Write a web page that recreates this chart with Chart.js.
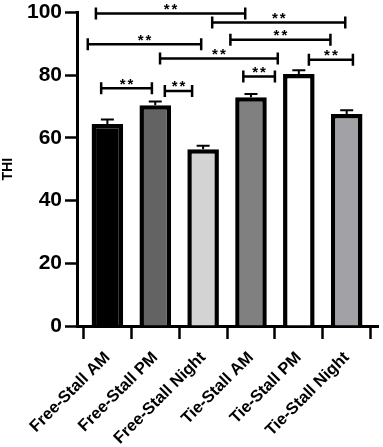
<!DOCTYPE html>
<html>
<head>
<meta charset="utf-8">
<title>THI</title>
<script src="https://cdn.jsdelivr.net/npm/chart.js"></script>
<style>
  html, body { margin: 0; padding: 0; background: #fff; }
  #wrap { width: 383px; height: 447px; }
</style>
</head>
<body>
<div id="wrap"><canvas id="chartCanvas"></canvas></div>
<script>
// data
const categories = ['Free-Stall AM', 'Free-Stall PM', 'Free-Stall Night', 'Tie-Stall AM', 'Tie-Stall PM', 'Tie-Stall Night'];
const thiMeans = [64.4, 70.4, 56.4, 73.0, 80.4, 67.6];
const thiErrors = [1.5, 1.2, 1.1, 1.0, 1.2, 1.2];
const barColors = ['#000000', '#636363', '#d3d3d3', '#808080', '#ffffff', '#a2a1a5'];
const yTicks = [0, 20, 40, 60, 80, 100];

// significance brackets: start (x units), end (x units), height (THI)
const bracketStart = [-0.24, 2.19, -0.41, 2.57, 1.10, -0.13, 1.20, 2.84, 4.21];
const bracketEnd   = [ 2.88, 4.97,  1.96, 4.66, 3.56,  0.93, 1.77, 3.50, 5.13];
const bracketLevel = [ 99.7, 96.8,  89.9, 91.3, 85.3,  75.8, 75.0, 79.6, 84.9];
const bracketLabel = ['**', '**', '**', '**', '**', '**', '**', '**', '**'];

Chart.defaults.font.family = "'Liberation Sans', Arial, sans-serif";
Chart.defaults.color = '#000';

// error bars on top of each bar
const errorBars = {
  id: 'errorBars',
  afterDatasetsDraw(chart) {
    const ctx = chart.ctx;
    const y = chart.scales.y;
    const meta = chart.getDatasetMeta(0);
    ctx.save();
    ctx.strokeStyle = '#000';
    ctx.lineWidth = 2;
    meta.data.forEach((bar, i) => {
      const top = y.getPixelForValue(thiMeans[i]);
      const cap = y.getPixelForValue(thiMeans[i] + thiErrors[i]);
      ctx.beginPath();
      ctx.moveTo(bar.x, top);
      ctx.lineTo(bar.x, cap);
      ctx.moveTo(bar.x - 6.5, cap);
      ctx.lineTo(bar.x + 6.5, cap);
      ctx.stroke();
    });
    ctx.restore();
  }
};

// significance brackets with "**"
const brackets = {
  id: 'brackets',
  afterDraw(chart) {
    const ctx = chart.ctx;
    const xs = chart.scales.x, ys = chart.scales.y;
    ctx.save();
    ctx.strokeStyle = '#000';
    ctx.fillStyle = '#000';
    ctx.lineWidth = 2.5;
    ctx.font = "bold 15px 'Liberation Sans', Arial, sans-serif";
    ctx.letterSpacing = '2px';
    ctx.textAlign = 'center';
    ctx.textBaseline = 'alphabetic';
    bracketStart.forEach((s, i) => {
      const x1 = xs.getPixelForValue(s);
      const x2 = xs.getPixelForValue(bracketEnd[i]);
      const yy = ys.getPixelForValue(bracketLevel[i]);
      ctx.beginPath();
      ctx.moveTo(x1, yy); ctx.lineTo(x2, yy);
      ctx.moveTo(x1, yy - 6); ctx.lineTo(x1, yy + 6);
      ctx.moveTo(x2, yy - 6); ctx.lineTo(x2, yy + 6);
      ctx.stroke();
      ctx.fillText(bracketLabel[i], (x1 + x2) / 2 + 1, yy + 0.5);
    });
    ctx.restore();
  }
};

const ctx = document.getElementById('chartCanvas').getContext('2d');
new Chart(ctx, {
  type: 'bar',
  data: {
    datasets: [{
      label: 'THI',
      data: thiMeans.map((v, i) => ({ x: i, y: v })),
      backgroundColor: barColors,
      borderColor: '#000',
      borderWidth: 4.5,
      barPercentage: 0.66,
      categoryPercentage: 1
    }]
  },
  options: {
    responsive: true,
    maintainAspectRatio: false,
    animation: false,
    layout: { padding: { top: 12.5, right: 5, left: 0, bottom: 0 } },
    plugins: { legend: { display: false }, tooltip: { enabled: false } },
    scales: {
      x: {
        type: 'linear',
        offset: false,
        min: -0.635,
        max: 5.654,
        afterBuildTicks: s => { s.ticks = categories.map((c, i) => ({ value: i })); },
        afterFit: s => { s.height = 121; },
        border: { display: true, color: '#000', width: 3 },
        grid: { display: true, drawOnChartArea: false, drawTicks: true, tickLength: 13, tickWidth: 2.5, tickColor: '#000' },
        ticks: {
          autoSkip: false,
          minRotation: 45,
          maxRotation: 45,
          padding: 9,
          font: { size: 16.5, weight: 'bold' },
          callback: v => categories[v]
        }
      },
      y: {
        min: 0,
        max: 100,
        afterBuildTicks: s => { s.ticks = yTicks.map(v => ({ value: v })); },
        afterFit: s => { s.width = 77; },
        border: { display: true, color: '#000', width: 3 },
        grid: { display: true, drawOnChartArea: false, drawTicks: true, tickLength: 12, tickWidth: 2.5, tickColor: '#000' },
        ticks: { padding: 3, font: { size: 21, weight: 'bold', lineHeight: 0.9 } },
        title: { display: true, text: 'THI', font: { size: 14, weight: 'bold' }, padding: 0 }
      }
    }
  },
  plugins: [errorBars, brackets]
});
</script>
</body>
</html>
